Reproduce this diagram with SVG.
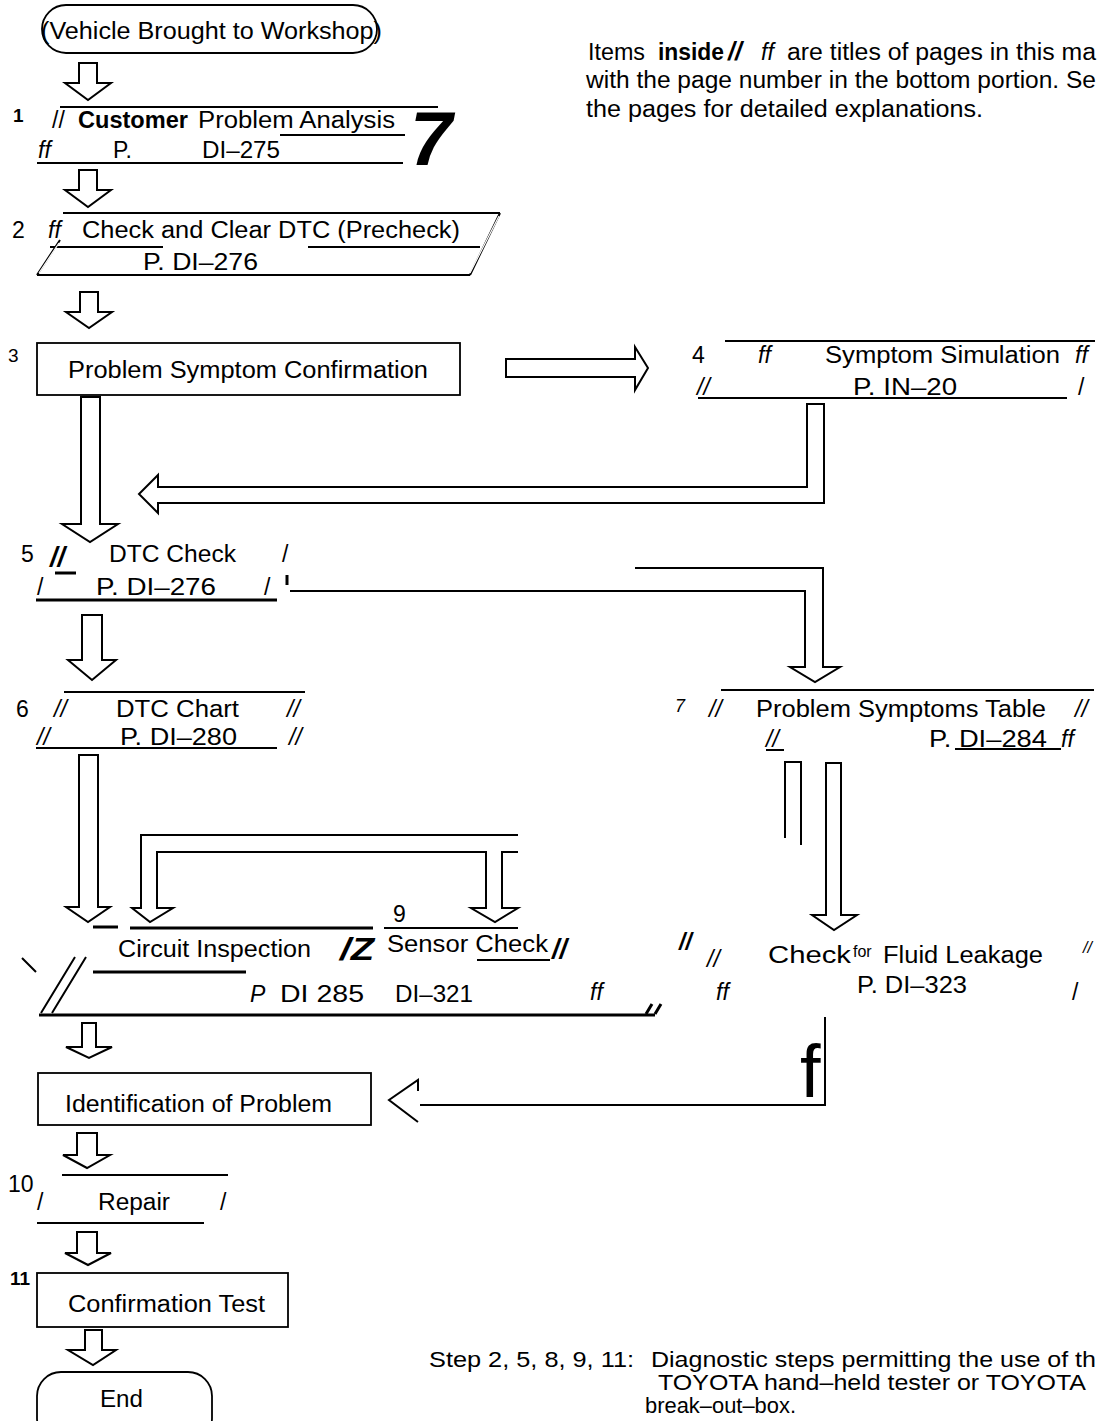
<svg xmlns="http://www.w3.org/2000/svg" width="1098" height="1421" viewBox="0 0 1098 1421">
<style>
.t{font-family:"Liberation Sans",Arial,Helvetica,sans-serif;font-size:23px;fill:#000}
.s{font-size:19px}
.i{font-style:italic}
.b{font-weight:bold}
.f{font-size:22px}
.ln{stroke:#000;stroke-width:2;fill:none}
.thk{stroke-width:3}
.arr{fill:#fff;stroke:#000;stroke-width:2;stroke-linejoin:miter}
.box{fill:#fff;stroke:#000;stroke-width:1.8}
</style>
<rect width="1098" height="1421" fill="#fff"/>

<g id="note">
<text class="t" x="588" y="60" textLength="57" lengthAdjust="spacingAndGlyphs">Items</text>
<text class="t b" x="658" y="60" textLength="66" lengthAdjust="spacingAndGlyphs">inside</text>
<text class="t b i" x="728" y="60" style="font-size:25px">//</text>
<text class="t i" x="761" y="60">ff</text>
<text class="t" x="787" y="60" textLength="309" lengthAdjust="spacingAndGlyphs">are titles of pages in this ma</text>
<text class="t" x="586" y="88" textLength="510" lengthAdjust="spacingAndGlyphs">with the page number in the bottom portion. Se</text>
<text class="t" x="586" y="117" textLength="397" lengthAdjust="spacingAndGlyphs">the pages for detailed explanations.</text>
</g>

<g id="start">
<rect class="box" x="42" y="5" width="335" height="48" rx="24"/>
<text class="t" x="41" y="39" textLength="341" lengthAdjust="spacingAndGlyphs">(Vehicle Brought to Workshop)</text>
</g>

<g id="step1">
<path class="ln" d="M60,107 H438 M280,135 H405 M37,163 H403"/>
<text class="t s b" x="13" y="122">1</text>
<text class="t" x="52" y="128">//</text>
<text class="t b" x="78" y="128" textLength="110" lengthAdjust="spacingAndGlyphs">Customer</text>
<text class="t" x="198" y="128" textLength="197" lengthAdjust="spacingAndGlyphs">Problem Analysis</text>
<text class="t i" x="38" y="158">ff</text>
<text class="t" x="113" y="158">P.</text>
<text class="t" x="202" y="158" textLength="78" lengthAdjust="spacingAndGlyphs">DI–275</text>
<text class="t b i" x="410" y="165" style="font-size:76px">7</text>
</g>

<g id="step2">
<path class="ln" d="M63,213 H500 M50,247 H163 M308,247 H480 M37,275 H470"/>
<path class="ln" stroke-width="5" d="M500,213 L470,275 M37,275 L60,240"/>
<path stroke="#fff" stroke-width="1.2" fill="none" d="M499,216 L470,273 M39,273 L59,243"/>
<text class="t" x="12" y="238">2</text>
<text class="t i" x="48" y="238">ff</text>
<text class="t" x="82" y="238" textLength="378" lengthAdjust="spacingAndGlyphs">Check and Clear DTC (Precheck)</text>
<text class="t" x="143" y="270" textLength="115" lengthAdjust="spacingAndGlyphs">P. DI–276</text>
</g>

<g id="step3">
<rect class="box" x="37" y="343" width="423" height="52"/>
<text class="t s" x="8" y="362">3</text>
<text class="t" x="68" y="378" textLength="360" lengthAdjust="spacingAndGlyphs">Problem Symptom Confirmation</text>
</g>

<g id="step4">
<path class="ln" d="M725,341 H1095 M698,398 H1067"/>
<text class="t" x="692" y="363">4</text>
<text class="t i" x="758" y="363">ff</text>
<text class="t" x="825" y="363" textLength="235" lengthAdjust="spacingAndGlyphs">Symptom Simulation</text>
<text class="t i" x="1075" y="363">ff</text>
<text class="t i" x="697" y="395">//</text>
<text class="t" x="853" y="395" textLength="104" lengthAdjust="spacingAndGlyphs">P. IN–20</text>
<text class="t" x="1078" y="395">/</text>
</g>

<g id="step5">
<path class="ln thk" d="M36,600 H277"/>
<text class="t" x="21" y="562">5</text>
<text class="t b i" x="50" y="566" style="font-size:27px">//</text>
<path class="ln thk" d="M55,573 H76"/>
<text class="t" x="109" y="562" textLength="127" lengthAdjust="spacingAndGlyphs">DTC Check</text>
<text class="t" x="282" y="562">/</text>
<text class="t" x="37" y="595">/</text>
<text class="t" x="96" y="595" textLength="120" lengthAdjust="spacingAndGlyphs">P. DI–276</text>
<text class="t" x="264" y="595">/</text>
</g>

<g id="step6">
<path class="ln" d="M64,692 H305 M36,748 H277"/>
<text class="t" x="16" y="717">6</text>
<text class="t i" x="54" y="717">//</text>
<text class="t" x="116" y="717" textLength="123" lengthAdjust="spacingAndGlyphs">DTC Chart</text>
<text class="t i" x="287" y="717">//</text>
<text class="t i" x="37" y="745">//</text>
<text class="t" x="120" y="745" textLength="117" lengthAdjust="spacingAndGlyphs">P. DI–280</text>
<text class="t i" x="289" y="745">//</text>
</g>

<g id="step7">
<path class="ln" stroke-width="2.5" d="M721,690 H1094"/>
<path class="ln" stroke-width="1.2" d="M955,749 H1061 M766,750 H784"/>
<text class="t i" x="675" y="712" style="font-size:18px">7</text>
<text class="t i" x="709" y="717">//</text>
<text class="t" x="756" y="717" textLength="290" lengthAdjust="spacingAndGlyphs">Problem Symptoms Table</text>
<text class="t i" x="1075" y="717">//</text>
<text class="t i" x="766" y="747">//</text>
<text class="t" x="929" y="747" textLength="118" lengthAdjust="spacingAndGlyphs">P. DI–284</text>
<text class="t i" x="1061" y="747">ff</text>
</g>

<g id="step8-9">
<path class="ln thk" d="M130,928 H373 M93,927 H118 M93,972 H246 M39,1015 H655"/>
<path class="ln" d="M384,928 H518 M477,960 H550"/>
<path class="ln" stroke-width="5" d="M41,1013 L75,957 M52,1013 L86,957 M22,958 L36,972"/>
<path class="ln thk" d="M646,1014 L652,1004 M655,1014 L661,1004"/>
<text class="t" x="393" y="922">9</text>
<text class="t" x="118" y="957" textLength="193" lengthAdjust="spacingAndGlyphs">Circuit Inspection</text>
<text class="t b i" x="340" y="960" style="font-size:32px" textLength="34" lengthAdjust="spacingAndGlyphs">/Z</text>
<text class="t" x="387" y="952" textLength="161" lengthAdjust="spacingAndGlyphs">Sensor Check</text>
<text class="t b i" x="552" y="958" style="font-size:27px">//</text>
<text class="t i" x="250" y="1002">P</text>
<text class="t" x="280" y="1002" textLength="84" lengthAdjust="spacingAndGlyphs">DI  285</text>
<text class="t" x="395" y="1002" textLength="78" lengthAdjust="spacingAndGlyphs">DI–321</text>
<text class="t i" x="590" y="1000">ff</text>
<text class="t i" x="716" y="1000">ff</text>
</g>

<g id="fluid">
<text class="t b i" x="679" y="950">//</text>
<text class="t i" x="707" y="967">//</text>
<text class="t" x="768" y="963" textLength="83" lengthAdjust="spacingAndGlyphs">Check</text>
<text class="t" x="853" y="957" style="font-size:16px">for</text>
<text class="t" x="883" y="963" textLength="160" lengthAdjust="spacingAndGlyphs">Fluid Leakage</text>
<text class="t i" x="1083" y="953" style="font-size:16px">//</text>
<text class="t" x="857" y="993" textLength="110" lengthAdjust="spacingAndGlyphs">P. DI–323</text>
<text class="t" x="1072" y="1000">/</text>
</g>

<g id="identify">
<rect class="box" x="38" y="1073" width="333" height="52"/>
<text class="t" x="65" y="1112" textLength="267" lengthAdjust="spacingAndGlyphs">Identification of Problem</text>
</g>

<g id="step10">
<path class="ln" d="M62,1175 H228 M37,1223 H204"/>
<text class="t" x="8" y="1192">10</text>
<text class="t" x="37" y="1210">/</text>
<text class="t" x="98" y="1210" textLength="72" lengthAdjust="spacingAndGlyphs">Repair</text>
<text class="t" x="220" y="1210">/</text>
</g>

<g id="step11">
<rect class="box" x="37" y="1273" width="251" height="54" stroke-width="3"/>
<text class="t s b" x="10" y="1285">11</text>
<text class="t" x="68" y="1312" textLength="197" lengthAdjust="spacingAndGlyphs">Confirmation Test</text>
</g>

<g id="end">
<rect class="box" x="37" y="1372" width="175" height="70" rx="24"/>
<text class="t" x="100" y="1407" textLength="43" lengthAdjust="spacingAndGlyphs">End</text>
</g>

<g id="footer">
<text class="t f" x="429" y="1367" textLength="205" lengthAdjust="spacingAndGlyphs">Step 2, 5, 8, 9, 11:</text>
<text class="t f" x="651" y="1367" textLength="445" lengthAdjust="spacingAndGlyphs">Diagnostic steps permitting the use of th</text>
<text class="t f" x="658" y="1390" textLength="428" lengthAdjust="spacingAndGlyphs">TOYOTA hand–held tester or TOYOTA</text>
<text class="t f" x="645" y="1413" textLength="151" lengthAdjust="spacingAndGlyphs">break–out–box.</text>
</g>

<g id="connectors">
<path class="arr" d="M79,63 V83 H65 L88,100 L111,83 H97 V63 Z"/>
<path class="arr" d="M79,170 V190 H65 L88,207 L111,190 H97 V170 Z"/>
<path class="arr" d="M80,292 V312 H66 L89,328 L112,312 H98 V292 Z"/>
<path class="arr" d="M506,359 H635 V347 L648,368 L635,390 V377 H506 Z"/>
<path class="arr" d="M81,397 V524 H62 L90,542 L118,524 H100 V397 Z"/>
<path class="arr" d="M807,404 H824 V503 H158 V513 L139,494 L158,475 V487 H807 Z"/>
<path class="ln" d="M290,591 H805 V667 H790 L815,682 L840,667 H823 V568 H635"/>
<path class="ln thk" d="M287,575 V585"/>
<path class="arr" d="M82,615 V660 H68 L92,680 L116,660 H102 V615 Z"/>
<path class="arr" d="M79,755 V907 H66 L88,922 L110,907 H98 V755 Z"/>
<path class="ln" d="M785,838 V762 H801 V845"/>
<path class="arr" d="M826,763 H841 V915 H857 L834,930 L812,915 H826 Z"/>
<path class="ln" d="M518,835 H141 V908 H132 L150,922 L173,908 H157 V852 H486 V908 H471 L495,922 L518,908 H502 V852 H518"/>
<path class="arr" d="M82,1023 V1047 H66 L89,1058 L112,1047 H96 V1023 Z"/>
<path class="ln" d="M825,1017 V1105 H420"/>
<path class="ln" stroke-width="2.5" d="M418,1091 V1080 L389,1100 L418,1122"/>
<text class="t" x="800" y="1097" style="font-size:74px">f</text>
<path class="arr" d="M77,1133 V1155 H63 L87,1168 L110,1155 H97 V1133 Z"/>
<path class="arr" d="M77,1232 V1253 H65 L88,1265 L111,1253 H97 V1232 Z"/>
<path class="arr" d="M85,1330 V1350 H68 L93,1365 L116,1350 H102 V1330 Z"/>
</g>
</svg>
